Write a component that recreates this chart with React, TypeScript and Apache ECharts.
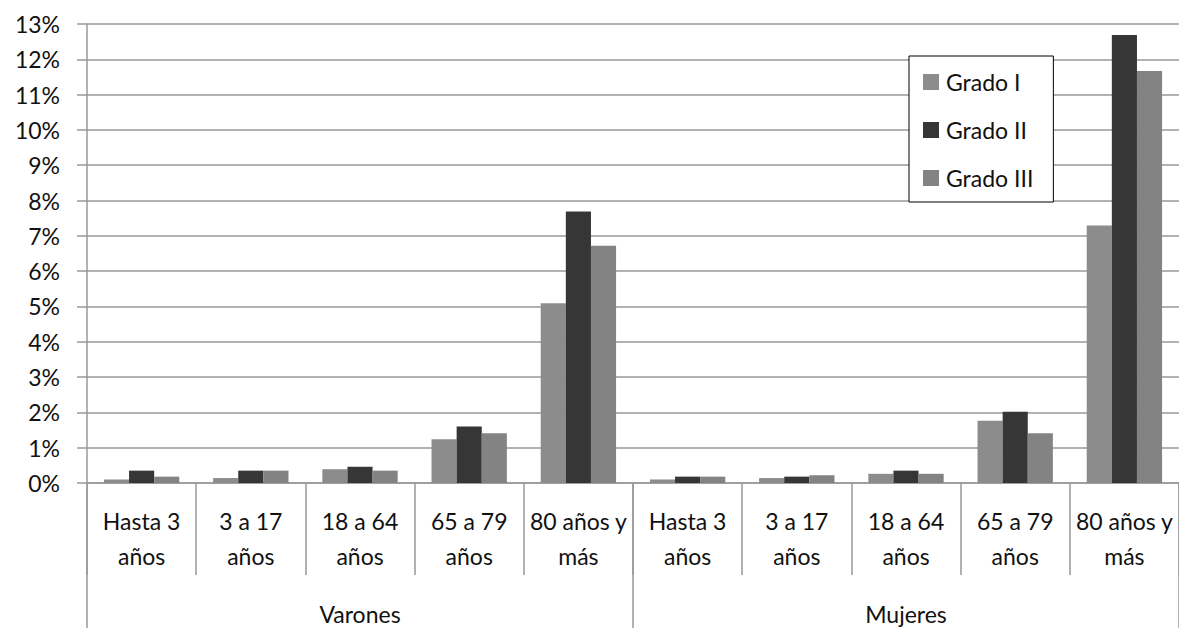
import React, { useEffect, useRef } from "react";
import * as echarts from "echarts";

const categories = [
  "Hasta 3\naños", "3 a 17\naños", "18 a 64\naños", "65 a 79\naños", "80 años y\nmás",
  "Hasta 3\naños", "3 a 17\naños", "18 a 64\naños", "65 a 79\naños", "80 años y\nmás",
];
const groups = ["Varones", "Mujeres"];
const gradoI = [0.1, 0.14, 0.39, 1.24, 5.09, 0.1, 0.14, 0.26, 1.76, 7.29];
const gradoII = [0.35, 0.35, 0.46, 1.6, 7.69, 0.18, 0.18, 0.35, 2.02, 12.69];
const gradoIII = [0.18, 0.35, 0.35, 1.41, 6.72, 0.18, 0.22, 0.26, 1.41, 11.67];
const seriesNames = ["Grado I", "Grado II", "Grado III"];
const colors = ["#8c8c8c", "#363636", "#838383"];

const FONT = "Lato";
const FS = 23;

export default function App() {
  const ref = useRef<HTMLDivElement>(null);
  useEffect(() => {
    if (!ref.current) return;
    const chart = echarts.init(ref.current, undefined, { renderer: "svg" });
    const data = [gradoI, gradoII, gradoIII];
    chart.setOption({
      animation: false,
      backgroundColor: "#ffffff",
      textStyle: { fontFamily: FONT },
      color: colors,
      grid: { left: 87, right: 0, top: 24, bottom: 145 },
      legend: {
        orient: "vertical",
        left: 909,
        top: 56,
        data: seriesNames,
        icon: "rect",
        itemWidth: 16,
        itemHeight: 16,
        itemGap: 24,
        padding: [14, 20, 12, 14],
        borderColor: "#000",
        borderWidth: 1,
        backgroundColor: "#ffffff",
        textStyle: { fontFamily: FONT, fontSize: FS, lineHeight: 24, color: "#111", padding: [0, 0, 0, 2] },
      },
      xAxis: [
        {
          type: "category",
          data: categories,
          position: "bottom",
          axisLine: { show: true, lineStyle: { color: "#999", width: 1.5 } },
          axisTick: { show: true, length: 92, lineStyle: { color: "#999", width: 1.5 } },
          axisLabel: {
            interval: 0,
            margin: 20,
            fontFamily: FONT,
            fontSize: FS,
            lineHeight: 35,
            color: "#111",
          },
        },
        {
          type: "category",
          data: groups,
          position: "bottom",
          axisLine: { show: false },
          axisTick: { show: true, length: 150, lineStyle: { color: "#999", width: 1.5 } },
          axisLabel: {
            interval: 0,
            margin: 119,
            fontFamily: FONT,
            fontSize: FS,
            color: "#111",
          },
        },
      ],
      yAxis: {
        type: "value",
        min: 0,
        max: 13,
        interval: 1,
        axisLine: { show: true, lineStyle: { color: "#999", width: 1.5 } },
        axisTick: { show: true, length: 10, lineStyle: { color: "#999", width: 1.5 } },
        splitLine: { show: true, lineStyle: { color: "#999", width: 1.5 } },
        axisLabel: {
          formatter: (v: number) => `${v}%`,
          margin: 27,
          fontFamily: FONT,
          fontSize: FS,
          color: "#111",
        },
      },
      series: seriesNames.map((name, i) => ({
        name,
        type: "bar",
        xAxisIndex: 0,
        data: data[i],
        barGap: "0%",
        barCategoryGap: "31%",
        itemStyle: { color: colors[i] },
      })),
    });
    return () => chart.dispose();
  }, []);
  return (
    <div
      ref={ref}
      style={{ position: "fixed", left: 0, top: 0, width: 1179, height: 628, background: "#fff" }}
    />
  );
}
